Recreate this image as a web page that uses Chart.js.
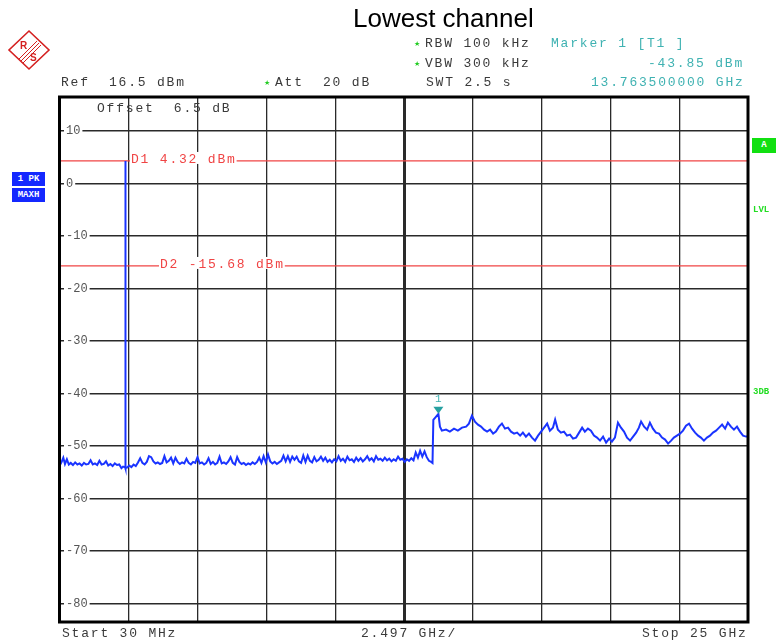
<!DOCTYPE html>
<html>
<head>
<meta charset="utf-8">
<script src="https://cdn.jsdelivr.net/npm/chart.js@4.4.1/dist/chart.umd.min.js"></script>
<style>
html,body{margin:0;padding:0;background:#fff;}
#wrap{position:relative;width:776px;height:644px;overflow:hidden;background:#fff;}
#c{position:absolute;left:0;top:0;}
.t{position:absolute;font-family:"Liberation Mono","Courier New",monospace;font-size:13px;letter-spacing:1.8px;color:#3a3a3a;white-space:pre;line-height:14px;z-index:2;}
.teal{color:#3fb2b2;}
.star{position:absolute;font-family:"DejaVu Sans",sans-serif;font-size:7px;color:#22cc22;line-height:8px;z-index:2;}
.title{position:absolute;left:353px;top:3px;font-family:"Liberation Sans",Arial,sans-serif;font-size:26px;color:#000;white-space:pre;z-index:2;}
.box{position:absolute;font-family:"Liberation Mono",monospace;font-weight:bold;font-size:9px;color:#fff;white-space:pre;text-align:center;line-height:14px;z-index:2;}
.grn{position:absolute;font-family:"Liberation Mono",monospace;font-weight:bold;font-size:9px;color:#22dd22;white-space:pre;line-height:10px;z-index:2;}
</style>
</head>
<body>
<div id="wrap">
<canvas id="c" width="776" height="644"></canvas>

<div class="title">Lowest channel</div>

<svg style="position:absolute;left:6px;top:28px;z-index:2" width="46" height="44" viewBox="0 0 46 44">
  <polygon points="23,3 43,22 23,41 3,22" fill="none" stroke="#d42020" stroke-width="1.6"/>
  <line x1="13" y1="31" x2="31" y2="13" stroke="#d42020" stroke-width="1"/>
  <line x1="15" y1="33" x2="33" y2="15" stroke="#d42020" stroke-width="1"/>
  <line x1="17" y1="35" x2="35" y2="17" stroke="#d42020" stroke-width="1"/>
  <text x="14" y="21" fill="#d42020" font-size="10" font-weight="bold" font-family="Liberation Sans">R</text>
  <text x="24" y="33" fill="#d42020" font-size="10" font-weight="bold" font-family="Liberation Sans">S</text>
</svg>

<div class="star" style="left:414px;top:40px">★</div>
<div class="t" style="left:425px;top:37px">RBW 100 kHz</div>
<div class="t teal" style="left:551px;top:37px">Marker 1 [T1 ]</div>
<div class="star" style="left:414px;top:60px">★</div>
<div class="t" style="left:425px;top:57px">VBW 300 kHz</div>
<div class="t teal" style="left:648px;top:57px">-43.85 dBm</div>
<div class="t" style="left:61px;top:76px">Ref  16.5 dBm</div>
<div class="star" style="left:264px;top:79px">★</div>
<div class="t" style="left:275px;top:76px">Att  20 dB</div>
<div class="t" style="left:426px;top:76px">SWT 2.5 s</div>
<div class="t teal" style="left:591px;top:76px">13.763500000 GHz</div>
<div class="t" style="left:97px;top:102px">Offset  6.5 dB</div>

<div class="t" style="left:62px;top:627px">Start 30 MHz</div>
<div class="t" style="left:361px;top:627px">2.497 GHz/</div>
<div class="t" style="left:642px;top:627px">Stop 25 GHz</div>

<div class="box" style="left:12px;top:172px;width:33px;height:14px;background:#1428ff">1 PK</div>
<div class="box" style="left:12px;top:188px;width:33px;height:14px;background:#1428ff">MAXH</div>

<div class="box" style="left:752px;top:138px;width:24px;height:15px;background:#11e011;line-height:15px">A</div>
<div class="grn" style="left:753px;top:205px">LVL</div>
<div class="grn" style="left:753px;top:387px">3DB</div>

<script>
// ---------------- data ----------------
const startGHz = 0.03;
const stopGHz = 25.0;
const refLevel = 16.5;
const bottomLevel = -83.5;
const yTickLabels = [10, 0, -10, -20, -30, -40, -50, -60, -70, -80];
const xGridGHz = [0.03, 2.527, 5.024, 7.521, 10.018, 12.515, 15.012, 17.509, 20.006, 22.503, 25.0];

const d1Level = 4.32;
const d2Level = -15.68;
const d1Label = "D1 4.32 dBm";
const d2Label = "D2 -15.68 dBm";
const marker1 = [13.7635, -43.85];

// trace below the carrier (GHz, dBm)
const lowBandTrace = [
 [0.03,-53.6],[0.09,-53.0],[0.15,-52.2],[0.21,-53.4],[0.28,-52.5],[0.35,-53.5],[0.42,-53.2],[0.50,-53.6],
 [0.58,-53.1],[0.66,-53.5],[0.74,-53.3],[0.82,-53.7],[0.90,-53.2],[0.98,-53.5],[1.06,-53.4],[1.14,-52.7],
 [1.22,-53.5],[1.30,-53.3],[1.38,-53.6],[1.46,-52.8],[1.54,-53.5],[1.62,-53.4],[1.70,-52.9],[1.78,-53.7],
 [1.86,-53.4],[1.94,-53.8],[2.02,-53.3],[2.10,-53.6],[2.18,-53.5],[2.26,-54.2],[2.32,-53.9],[2.37,-54.0]
];
// carrier at the lowest channel
const carrierSpike = [[2.392,-53.9],[2.400,4.32],[2.406,4.32],[2.414,-54.2]];
// trace between carrier and the step
const midBandTrace = [
 [2.46,-54.1],[2.54,-53.7],[2.62,-54.0],[2.70,-53.5],[2.78,-53.8],[2.86,-53.1],[2.94,-52.3],[3.02,-53.2],
 [3.10,-53.5],[3.18,-53.0],[3.26,-51.9],[3.34,-52.1],[3.42,-52.9],[3.50,-53.3],[3.58,-53.1],[3.66,-53.4],
 [3.74,-53.2],[3.82,-51.9],[3.90,-53.1],[3.98,-52.8],[4.06,-52.2],[4.14,-53.3],[4.22,-52.2],[4.30,-53.0],
 [4.38,-53.4],[4.46,-53.1],[4.54,-53.3],[4.62,-52.4],[4.70,-53.2],[4.78,-53.5],[4.86,-53.0],[4.94,-53.2],
 [5.02,-52.1],[5.10,-53.3],[5.18,-53.1],[5.26,-53.5],[5.34,-53.2],[5.42,-52.3],[5.50,-53.4],[5.58,-53.0],
 [5.66,-53.5],[5.74,-53.2],[5.82,-52.0],[5.90,-53.3],[5.98,-53.1],[6.06,-53.4],[6.14,-52.9],[6.22,-52.1],
 [6.30,-53.2],[6.38,-53.5],[6.46,-52.1],[6.54,-53.0],[6.62,-53.4],[6.70,-53.2],[6.78,-53.6],[6.86,-53.3],
 [6.94,-53.5],[7.02,-53.1],[7.10,-53.4],[7.18,-53.0],[7.26,-52.2],[7.34,-53.2],[7.42,-51.9],[7.50,-53.1],
 [7.58,-51.6],[7.66,-52.9],[7.74,-53.3],[7.82,-53.0],[7.90,-53.4],[7.98,-53.1],[8.06,-52.8],[8.14,-51.8],
 [8.22,-52.9],[8.30,-51.9],[8.38,-53.0],[8.46,-52.0],[8.54,-52.6],[8.62,-52.0],[8.70,-52.9],[8.78,-53.2],
 [8.86,-51.8],[8.94,-53.0],[9.02,-51.8],[9.10,-52.8],[9.18,-53.1],[9.26,-52.1],[9.34,-52.9],[9.42,-52.6],
 [9.50,-52.0],[9.58,-52.8],[9.66,-52.2],[9.74,-53.0],[9.82,-52.6],[9.90,-53.1],[9.98,-52.5],[10.06,-52.9],
 [10.14,-51.9],[10.22,-52.8],[10.30,-52.4],[10.38,-53.0],[10.46,-52.0],[10.54,-52.7],[10.62,-52.5],[10.70,-53.0],
 [10.78,-52.2],[10.86,-52.8],[10.94,-52.3],[11.02,-52.9],[11.10,-52.5],[11.18,-51.9],[11.26,-52.7],[11.34,-52.3],
 [11.42,-52.9],[11.50,-51.9],[11.58,-52.6],[11.66,-52.4],[11.74,-52.8],[11.82,-52.2],[11.90,-52.7],[11.98,-52.4],
 [12.06,-52.9],[12.14,-52.5],[12.22,-52.8],[12.30,-52.0],[12.38,-52.6],[12.46,-52.4],[12.54,-53.0],[12.62,-52.5],
 [12.70,-52.8],[12.78,-52.3],[12.86,-52.7],[12.94,-51.2],[13.02,-52.2],[13.10,-50.9],[13.18,-52.0],[13.26,-51.0],
 [13.34,-52.1],[13.42,-52.8],[13.50,-53.0],[13.55,-53.2]
];
const highBandTrace = [
 [13.58,-45.0],[13.68,-44.38],[13.7635,-43.85],[13.82,-46.29],[13.89,-47.05],[14.04,-46.86],[14.18,-47.24],[14.33,-46.67],
 [14.47,-47.05],[14.62,-46.48],[14.77,-46.29],[14.87,-45.71],[14.98,-44.19],[15.09,-45.33],[15.20,-45.90],[15.31,-46.29],
 [15.42,-46.86],[15.53,-47.24],[15.64,-46.86],[15.75,-47.62],[15.85,-47.24],[15.96,-46.29],[16.07,-45.71],[16.18,-46.67],
 [16.29,-46.48],[16.40,-47.24],[16.51,-47.62],[16.62,-47.43],[16.73,-48.0],[16.83,-47.43],[16.94,-48.19],[17.05,-47.62],
 [17.16,-48.38],[17.27,-48.95],[17.38,-48.0],[17.49,-47.24],[17.60,-46.48],[17.71,-45.71],[17.81,-47.05],[17.92,-46.48],
 [18.00,-44.95],[18.10,-46.86],[18.21,-47.43],[18.32,-47.24],[18.43,-48.0],[18.54,-47.81],[18.65,-48.57],[18.76,-48.38],
 [18.87,-47.43],[18.98,-46.48],[19.08,-47.24],[19.19,-46.67],[19.30,-47.05],[19.41,-48.0],[19.52,-48.38],[19.63,-48.95],
 [19.74,-48.19],[19.85,-49.33],[19.96,-48.57],[20.06,-49.14],[20.17,-48.38],[20.28,-45.52],[20.39,-46.48],[20.50,-47.24],
 [20.61,-48.38],[20.72,-48.95],[20.83,-48.19],[20.94,-47.43],[21.04,-46.48],[21.12,-45.33],[21.23,-46.29],[21.34,-46.86],
 [21.44,-45.52],[21.55,-46.67],[21.66,-47.43],[21.77,-47.62],[21.88,-48.38],[21.99,-48.76],[22.10,-49.52],[22.21,-48.95],
 [22.31,-48.38],[22.42,-48.0],[22.53,-47.62],[22.64,-47.05],[22.75,-46.10],[22.86,-45.71],[22.97,-46.67],[23.08,-47.43],
 [23.19,-48.0],[23.29,-48.38],[23.40,-48.95],[23.51,-48.38],[23.62,-48.0],[23.73,-47.43],[23.84,-47.05],[23.95,-46.48],
 [24.06,-45.90],[24.17,-46.67],[24.27,-45.52],[24.38,-46.29],[24.49,-46.86],[24.60,-46.29],[24.71,-47.24],[24.82,-48.0],
 [24.93,-48.19],[25.0,-48.19]
];

// ---------------- chart ----------------
const tracePoints = [...lowBandTrace, ...carrierSpike, ...midBandTrace, ...highBandTrace].map(p => ({x: p[0], y: p[1]}));

const overlay = {
  id: 'overlay',
  afterDatasetsDraw(chart) {
    const {ctx, chartArea: a, scales: {x, y}} = chart;
    ctx.save();
    ctx.font = '13px "Liberation Mono", monospace';
    try { ctx.letterSpacing = '1.8px'; } catch (e) {}
    ctx.textBaseline = 'alphabetic';
    ctx.textAlign = 'left';
    const drawLbl = (txt, lvl, px) => {
      const yy = y.getPixelForValue(lvl);
      const w = ctx.measureText(txt).width;
      ctx.fillStyle = '#fff';
      ctx.fillRect(px - 1, yy - 9, w + 1, 12);
      ctx.fillStyle = '#f04444';
      ctx.fillText(txt, px, yy + 2);
    };
    drawLbl(d1Label, d1Level, 131);
    drawLbl(d2Label, d2Level, 160);
    // marker 1
    const mx = x.getPixelForValue(marker1[0]);
    const my = y.getPixelForValue(marker1[1]);
    ctx.fillStyle = '#26a0a0';
    ctx.beginPath();
    ctx.moveTo(mx - 5, my - 7);
    ctx.lineTo(mx + 5, my - 7);
    ctx.lineTo(mx, my);
    ctx.closePath();
    ctx.fill();
    try { ctx.letterSpacing = '0px'; } catch (e) {}
    ctx.font = '11px "Liberation Mono", monospace';
    ctx.fillStyle = '#3fb2b2';
    ctx.textAlign = 'center';
    ctx.fillText('1', mx, my - 12);
    // frame
    ctx.strokeStyle = '#000';
    ctx.lineWidth = 3;
    ctx.strokeRect(a.left - 0.5, a.top, a.right - a.left + 0.5, a.bottom - a.top);
    ctx.restore();
  }
};

Chart.defaults.font.family = '"Liberation Mono", monospace';

new Chart(document.getElementById('c'), {
  type: 'line',
  data: {
    datasets: [
      {data: tracePoints, borderColor: '#1a34ff', borderWidth: 2, pointRadius: 0, tension: 0, order: 1},
      {data: [{x: startGHz, y: d1Level}, {x: stopGHz, y: d1Level}], borderColor: '#f04444', borderWidth: 1.2, pointRadius: 0, order: 2},
      {data: [{x: startGHz, y: d2Level}, {x: stopGHz, y: d2Level}], borderColor: '#f04444', borderWidth: 1.2, pointRadius: 0, order: 2}
    ]
  },
  options: {
    responsive: false,
    animation: false,
    devicePixelRatio: 1,
    layout: {padding: {left: 60, right: 28, top: 97, bottom: 22}},
    plugins: {legend: {display: false}, tooltip: {enabled: false}},
    scales: {
      x: {
        type: 'linear', min: startGHz, max: stopGHz,
        afterBuildTicks: s => { s.ticks = xGridGHz.map(v => ({value: v})); },
        afterFit: s => { s.height = 0; },
        ticks: {display: false},
        grid: {color: '#2a2a2a', lineWidth: c => c.index === 5 ? 3 : 1.3, drawTicks: false},
        border: {display: false}
      },
      y: {
        type: 'linear', min: bottomLevel, max: refLevel,
        afterBuildTicks: s => { s.ticks = yTickLabels.map(v => ({value: v})); },
        afterFit: s => { s.width = 0; },
        ticks: {
          mirror: true, padding: 6, color: '#555',
          font: {size: 12, family: '"Liberation Mono", monospace'},
          showLabelBackdrop: true, backdropColor: '#fff',
          backdropPadding: {left: 2, right: 2, top: 0, bottom: 0},
          callback: v => String(v)
        },
        grid: {color: '#2a2a2a', lineWidth: 1.4, drawTicks: false},
        border: {display: false}
      }
    }
  },
  plugins: [overlay]
});
</script>
</div>
</body>
</html>
